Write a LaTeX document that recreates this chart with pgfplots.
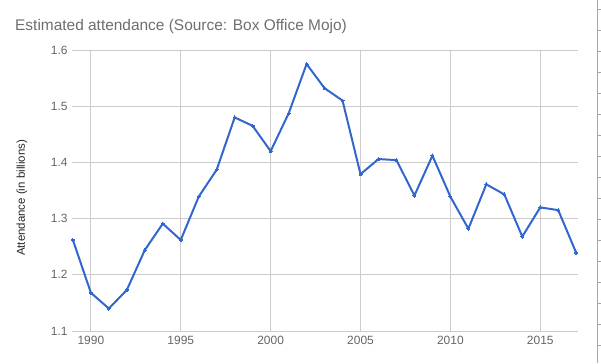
\documentclass[border=0pt]{standalone}
\usepackage{fontspec}
\setmainfont{Liberation Sans}
\usepackage{pgfplots}
\pgfplotsset{compat=1.18}
\definecolor{linecol}{RGB}{51,102,204}
\definecolor{gridcol}{RGB}{204,204,204}
\definecolor{labcol}{RGB}{102,102,102}
\definecolor{titlecol}{RGB}{110,110,110}
\begin{document}
\begin{tikzpicture}[x=1bp,y=1bp]
\useasboundingbox (0,0) rectangle (601,363);
\begin{axis}[
  at={(72bp,32bp)}, anchor=south west,
  scale only axis, width=506bp, height=281bp,
  xmin=1988.95, xmax=2017.1, ymin=1.1, ymax=1.6,
  xtick={1990,1995,2000,2005,2010,2015},
  ytick={1.1,1.2,1.3,1.4,1.5,1.6},
  xticklabel style={/pgf/number format/1000 sep={}, yshift=-2pt},
  yticklabel style={/pgf/number format/fixed, /pgf/number format/precision=1, /pgf/number format/fixed zerofill, xshift=-1pt},
  /pgf/number format/assume math mode=true,
  tick label style={font=\fontsize{12}{14}\selectfont, text=labcol},
  axis line style={draw=none},
  major tick length=0pt,
  grid=major, grid style={gridcol, line width=0.8pt},
  clip=false,
]
\addplot[linecol, line width=2pt, mark=*, mark size=1.5pt, mark options={fill=linecol, draw=linecol, line width=0pt}] coordinates {
(1989,1.262) (1990,1.168) (1991,1.140) (1992,1.173) (1993,1.244) (1994,1.291)
(1995,1.262) (1996,1.339) (1997,1.387) (1998,1.480) (1999,1.465) (2000,1.420)
(2001,1.487) (2002,1.575) (2003,1.532) (2004,1.510) (2005,1.379) (2006,1.406)
(2007,1.404) (2008,1.341) (2009,1.412) (2010,1.339) (2011,1.282) (2012,1.361)
(2013,1.343) (2014,1.268) (2015,1.320) (2016,1.315) (2017,1.239)
};
\end{axis}
\node[anchor=base west, inner sep=0, text=titlecol, font=\fontsize{15.5}{18}\selectfont] at (15,333) {Estimated attendance (Source: Box Office Mojo)};
\node[rotate=90, inner sep=0, text=black!85, font=\fontsize{11.5}{14}\selectfont] at (22,165) {Attendance (in billions)};
\draw[gray!70, line width=0.8pt] (597.5,0) -- (597.5,363);
\foreach \yy in {9,30,51,72,93,114,135,156,177,198,219,240,261,282,303,324,345} {
  \draw[gray!70, line width=0.6pt] (597.5,363-\yy) -- (601,363-\yy);
}
\end{tikzpicture}
\end{document}
